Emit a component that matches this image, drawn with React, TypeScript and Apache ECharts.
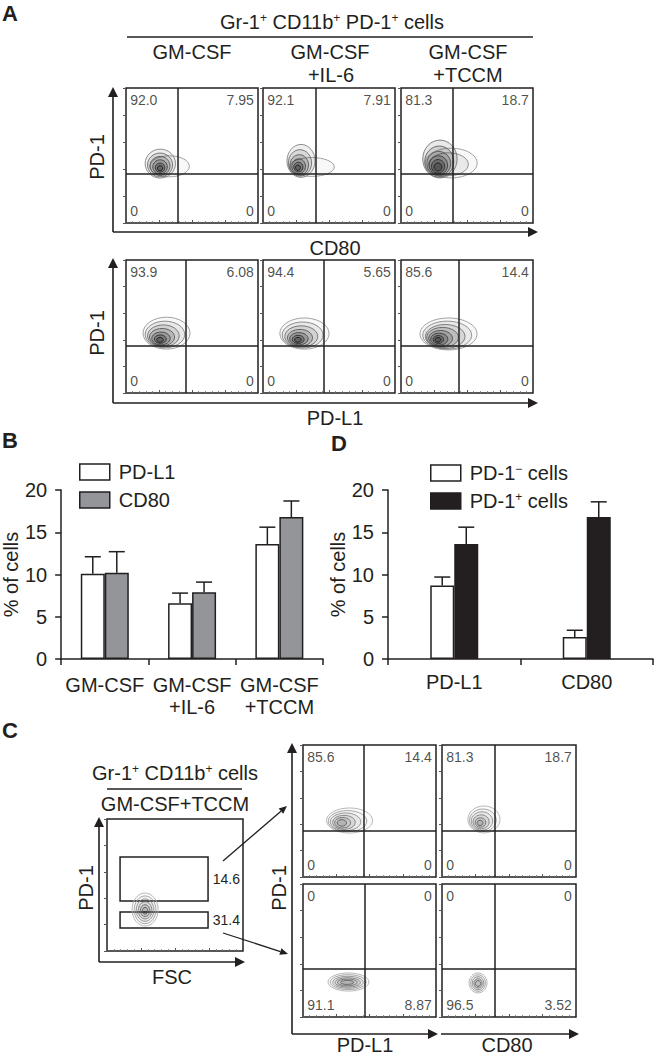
import React, { useEffect, useRef } from 'react';
import * as echarts from 'echarts';

const FONT = "'Liberation Sans', Arial, Helvetica, sans-serif";
const INK = '#231f20';

// ---------- Panel B data ----------
const bCategories = ['GM-CSF', 'GM-CSF\n+IL-6', 'GM-CSF\n+TCCM'];
const bPDL1 = [10.1, 6.6, 13.6];
const bPDL1Err = [2.0, 1.2, 2.0];
const bCD80 = [10.2, 7.9, 16.8];
const bCD80Err = [2.5, 1.2, 1.9];

// ---------- Panel D data ----------
const dCategories = ['PD-L1', 'CD80'];
const dNeg = [8.7, 2.6];
const dNegErr = [1.0, 0.8];
const dPos = [13.6, 16.8];
const dPosErr = [2.0, 1.8];

// ---------- Flow quadrant percentages [TL, TR, BL, BR] ----------
const quadA1 = [['92.0', '7.95', '0', '0'], ['92.1', '7.91', '0', '0'], ['81.3', '18.7', '0', '0']];
const quadA2 = [['93.9', '6.08', '0', '0'], ['94.4', '5.65', '0', '0'], ['85.6', '14.4', '0', '0']];
const quadC = [['85.6', '14.4', '0', '0'], ['81.3', '18.7', '0', '0'], ['0', '0', '91.1', '8.87'], ['0', '0', '96.5', '3.52']];
// quadrant gate positions [x, y] (0-100 scale)
const gatesA1 = [[39.4, 36.3], [40, 36.3], [39.4, 36.3]];
const gatesA2 = [[45.5, 35.3], [46, 35.3], [44, 35.3]];
const gatesC = [[46, 35], [39, 35], [46.6, 36], [39, 36]];
// FSC/PD-1 rectangular gates [x1, y1, x2, y2, %]
const fscGates = [[9.6, 37.9, 74.3, 71.2, '14.6'], [9.6, 17.4, 74.3, 29.5, '31.4']];

// ---------- Contour rings [cx, cy, rx, ry] (0-100 scale), outer -> inner ----------
const contourA1a = [[33, 42, 15, 7.8], [26, 44, 11.5, 10.7], [25.8, 43, 9.5, 8.8], [25.8, 42.3, 7.5, 7], [25.8, 41.6, 5.5, 5.2], [25.8, 41, 3.6, 3.4], [25.8, 40.6, 2, 1.9]];
const contourA1b = [[37, 41.5, 17, 7], [28.8, 46, 10.6, 12.2], [28, 44.5, 8.8, 9.8], [27.5, 43, 7, 7.6], [27, 42, 5.2, 5.5], [26.8, 41.4, 3.5, 3.6], [26.5, 41, 1.9, 2]];
const contourA1c = [[38, 44.4, 19.7, 11], [36, 43.5, 15, 8.5], [29.5, 47.4, 13, 14], [29, 45.5, 11, 11.5], [28.6, 44, 9, 9], [28.3, 42.8, 7, 7], [28.1, 42, 5, 5], [28, 41.5, 3, 3]];
const contourA2a = [[30.7, 45, 17.8, 12], [29.5, 44, 15, 10], [28.3, 43, 12, 8.2], [27.3, 42, 9.5, 6.5], [26.5, 41, 7, 4.8], [26, 40.5, 4.5, 3.2], [25.8, 40, 2.5, 1.8]];
const contourA2b = [[31.4, 44.7, 18.6, 11.7], [30, 43.6, 15.5, 9.8], [29, 42.5, 12.5, 8], [28, 41.5, 9.5, 6.3], [27.2, 40.8, 7, 4.6], [26.7, 40.3, 4.5, 3.1], [26.5, 40, 2.5, 1.8]];
const contourA2c = [[36, 44.4, 21.6, 12], [35, 43.5, 18.5, 10.5], [33.5, 42.5, 15, 9], [31.5, 41.8, 12, 7.5], [30, 41, 9, 6], [29, 40.5, 6.5, 4.5], [28.3, 40.2, 4, 3], [28, 40, 2.2, 1.7]];
const contourC1 = [[35, 42.8, 17.3, 9.5], [33.5, 42.3, 14.5, 8], [32, 41.8, 11.5, 6.7], [30.8, 41.4, 8.5, 5.3], [29.8, 41.1, 6, 4], [29.2, 41, 3.5, 2.5]];
const contourC2 = [[31.3, 43.6, 12, 10.2], [30.5, 43, 10, 8.5], [29.8, 42.4, 8, 7], [29.2, 41.8, 6, 5.3], [28.7, 41.3, 4, 3.6], [28.4, 41, 2.2, 2]];
const contourC3 = [[34.2, 26.3, 15.4, 6.8], [34, 26.2, 13.5, 5.6], [33.8, 26.1, 11.5, 4.5], [33.6, 26, 9.5, 3.5], [33.4, 26, 7.5, 2.5], [33.2, 26, 5, 1.5]];
const contourC4 = [[26.9, 25.6, 6.7, 7.5], [26.9, 25.5, 5.5, 6.2], [26.9, 25.4, 4.3, 4.9], [26.9, 25.3, 3.1, 3.5], [26.9, 25.2, 2, 2.2]];
const contourFSC = [[28, 31.4, 9.6, 12.5], [28, 31.2, 8, 10.5], [28, 31, 6.5, 8.5], [28, 30.8, 5, 6.5], [28, 30.6, 3.5, 4.5], [28, 30.5, 2, 2.6]];

// ---------- layout (pixels) ----------
const flowBoxes = [
  [126, 88, 132, 135], [263, 88, 132, 135], [401, 88, 132, 135],
  [126, 260, 132, 133], [263, 260, 132, 133], [401, 260, 132, 133],
  [303, 745, 133, 132], [442, 745, 134, 132], [303, 884, 133, 133], [442, 884, 134, 133],
  [107, 819, 136, 132],
];

function arrow(x1: number, y1: number, x2: number, y2: number, head = 10, half = 5, w = 1.6) {
  const dx = x2 - x1, dy = y2 - y1;
  const len = Math.sqrt(dx * dx + dy * dy);
  const ux = dx / len, uy = dy / len;
  const bx = x2 - ux * head, by = y2 - uy * head;
  return [
    { type: 'line', shape: { x1, y1, x2: bx, y2: by }, style: { stroke: INK, lineWidth: w } },
    { type: 'polygon', shape: { points: [[x2, y2], [bx - uy * half, by + ux * half], [bx + uy * half, by - ux * half]] }, style: { fill: INK } },
  ];
}

function txt(text: string, x: number, y: number, size = 20, opts: any = {}) {
  return {
    type: 'text', x, y, rotation: opts.rotation || 0,
    style: {
      text, fill: INK, fontSize: size, fontFamily: FONT, fontWeight: opts.bold ? 'bold' : 'normal',
      align: opts.align || 'center', verticalAlign: opts.va || 'middle',
      rich: { s: { fontSize: 12, fontFamily: FONT, fill: INK, verticalAlign: 'top', lineHeight: 12 } },
    },
  };
}

export default function App() {
  const ref = useRef<HTMLDivElement>(null);
  useEffect(() => {
    document.body.style.margin = '0';
    if (!ref.current) return;
    const chart = echarts.init(ref.current, undefined, { renderer: 'svg' });

    const grids: any[] = [];
    const xAxes: any[] = [];
    const yAxes: any[] = [];
    const series: any[] = [];

    const contours = [contourA1a, contourA1b, contourA1c, contourA2a, contourA2b, contourA2c, contourC1, contourC2, contourC3, contourC4, contourFSC];
    const quads = [...quadA1, ...quadA2, ...quadC];
    const gates = [...gatesA1, ...gatesA2, ...gatesC];

    flowBoxes.forEach(([l, t, w, h], i) => {
      grids.push({ left: l, top: t, width: w, height: h, show: true, borderColor: INK, borderWidth: 1.5, backgroundColor: 'transparent' });
      xAxes.push({
        type: 'value', gridIndex: i, min: 0, max: 100, interval: 25,
        axisLine: { show: false }, axisLabel: { show: false }, splitLine: { show: false },
        axisTick: { show: true, inside: true, length: 3, lineStyle: { color: '#555', width: 1 } },
        minorTick: { show: true, splitNumber: 5, length: 2, lineStyle: { color: '#777', width: 0.8 } },
      });
      yAxes.push({
        type: 'value', gridIndex: i, min: 0, max: 100, interval: 20,
        axisLine: { show: false }, axisLabel: { show: false }, splitLine: { show: false },
        axisTick: { show: true, inside: false, length: 3, lineStyle: { color: '#555', width: 1 } },
      });
      const isA = i < 6;
      const rings = contours[i];
      const n = rings.length;
      const outerG = isA ? 150 : 175;
      const innerG = isA ? 25 : 90;
      series.push({
        type: 'custom', xAxisIndex: i, yAxisIndex: i, silent: true, z: 3,
        data: rings,
        renderItem: (params: any, api: any) => {
          const c = api.coord([api.value(0), api.value(1)]);
          const s = api.size([api.value(2), api.value(3)]);
          const tt = n > 1 ? params.dataIndex / (n - 1) : 1;
          const g = Math.round(outerG + (innerG - outerG) * tt);
          const fa = isA ? 0.03 + 0.22 * tt : 0.015 + 0.09 * tt;
          return {
            type: 'ellipse',
            shape: { cx: c[0], cy: c[1], rx: s[0], ry: s[1] },
            style: { fill: `rgba(20,20,20,${fa.toFixed(3)})`, stroke: `rgb(${g},${g},${g})`, lineWidth: 0.9 },
          };
        },
      });
      if (i < 10) {
        const q = quads[i];
        const lbl = { show: true, fontSize: 14, fontFamily: FONT, color: INK, distance: 3 };
        series.push({
          type: 'scatter', xAxisIndex: i, yAxisIndex: i, silent: true, symbolSize: 1, z: 4,
          itemStyle: { color: 'rgba(0,0,0,0)' },
          data: [
            { value: [0.5, 91], label: { ...lbl, position: 'right', formatter: q[0] } },
            { value: [99.5, 91], label: { ...lbl, position: 'left', formatter: q[1] } },
            { value: [0.5, 9], label: { ...lbl, position: 'right', formatter: q[2] } },
            { value: [99.5, 9], label: { ...lbl, position: 'left', formatter: q[3] } },
          ],
          markLine: {
            silent: true, symbol: ['none', 'none'], label: { show: false },
            lineStyle: { color: INK, width: 1.5, type: 'solid' },
            data: [{ xAxis: gates[i][0] }, { yAxis: gates[i][1] }],
          },
        });
      } else {
        series.push({
          type: 'scatter', xAxisIndex: i, yAxisIndex: i, silent: true, symbolSize: 1, z: 4,
          itemStyle: { color: 'rgba(0,0,0,0)' },
          data: [[50, 50]],
          markArea: {
            silent: true,
            itemStyle: { color: 'rgba(0,0,0,0)', borderColor: INK, borderWidth: 1.5 },
            label: { show: true, position: 'right', distance: 4, fontSize: 14, fontFamily: FONT, color: INK },
            data: fscGates.map((gt) => [
              { xAxis: gt[0], yAxis: gt[1], name: gt[4] as string },
              { xAxis: gt[2], yAxis: gt[3] },
            ]),
          },
        });
      }
    });

    // bar grids
    const barAxisCommon = {
      axisLine: { show: true, lineStyle: { color: INK, width: 1.5 } },
      axisTick: { show: true, length: 6, lineStyle: { color: INK, width: 1.5 } },
      splitLine: { show: false },
    };
    const gB = grids.length;
    grids.push({ left: 58, top: 490, width: 265, height: 169 });
    const gD = grids.length;
    grids.push({ left: 388, top: 490, width: 265, height: 169 });

    [[gB, bCategories, 15], [gD, dCategories, 12]].forEach(([gi, cats, mg]: any) => {
      xAxes.push({
        type: 'category', gridIndex: gi, data: cats, ...barAxisCommon,
        axisLabel: { fontSize: 20, fontFamily: FONT, color: INK, margin: mg, lineHeight: 22, interval: 0 },
      });
      yAxes.push({
        type: 'value', gridIndex: gi, min: 0, max: 20, interval: 5, ...barAxisCommon,
        axisLabel: { fontSize: 20, fontFamily: FONT, color: INK, margin: 14 },
        name: '% of cells', nameLocation: 'middle', nameGap: 40,
        nameTextStyle: { fontSize: 20, fontFamily: FONT, color: INK },
      });
    });

    const barSeries = (name: string, vals: number[], gi: number, color: string) => ({
      type: 'bar', name, xAxisIndex: gi, yAxisIndex: gi, data: vals, barWidth: 24, barGap: '0%',
      itemStyle: { color, borderColor: INK, borderWidth: 1.5 }, silent: true, z: 2,
    });
    const errSeries = (vals: number[], errs: number[], gi: number, off: number) => ({
      type: 'custom', xAxisIndex: gi, yAxisIndex: gi, silent: true, z: 5,
      data: vals.map((v, i) => [i, v, v + errs[i]]),
      renderItem: (params: any, api: any) => {
        const base = api.coord([api.value(0), api.value(1)]);
        const top = api.coord([api.value(0), api.value(2)]);
        const x = base[0] + off;
        return {
          type: 'group', children: [
            { type: 'line', shape: { x1: x, y1: base[1], x2: x, y2: top[1] }, style: { stroke: INK, lineWidth: 1.5 } },
            { type: 'line', shape: { x1: x - 8, y1: top[1], x2: x + 8, y2: top[1] }, style: { stroke: INK, lineWidth: 1.5 } },
          ],
        };
      },
    });
    series.push(barSeries('PD-L1', bPDL1, gB, '#ffffff'));
    series.push(barSeries('CD80', bCD80, gB, '#939598'));
    series.push(errSeries(bPDL1, bPDL1Err, gB, -12));
    series.push(errSeries(bCD80, bCD80Err, gB, 12));
    series.push(barSeries('PD-1- cells', dNeg, gD, '#ffffff'));
    series.push(barSeries('PD-1+ cells', dPos, gD, '#231f20'));
    series.push(errSeries(dNeg, dNegErr, gD, -12));
    series.push(errSeries(dPos, dPosErr, gD, 12));

    const legendCommon = {
      orient: 'vertical', itemWidth: 30, itemHeight: 16, itemGap: 8, icon: 'rect', padding: 0,
      itemStyle: { borderColor: INK, borderWidth: 1.5 },
      textStyle: {
        fontSize: 20, fontFamily: FONT, color: INK, padding: [0, 0, 0, 4], lineHeight: 20,
        rich: { s: { fontSize: 12, fontFamily: FONT, color: INK, verticalAlign: 'top', lineHeight: 10 } },
      },
      selectedMode: false,
    };

    const graphics: any[] = [
      txt('A', 2, 2, 22, { bold: true, align: 'left', va: 'top' }),
      txt('B', 2, 429, 22, { bold: true, align: 'left', va: 'top' }),
      txt('D', 331, 432, 22, { bold: true, align: 'left', va: 'top' }),
      txt('C', 2, 719, 22, { bold: true, align: 'left', va: 'top' }),
      txt('Gr-1{s|+} CD11b{s|+} PD-1{s|+} cells', 332, 22, 20),
      { type: 'line', shape: { x1: 127, y1: 37, x2: 533, y2: 37 }, style: { stroke: INK, lineWidth: 1.6 } },
      txt('GM-CSF', 192, 52, 20), txt('GM-CSF', 330, 52, 20), txt('GM-CSF', 468, 52, 20),
      txt('+IL-6', 331, 75, 20), txt('+TCCM', 468, 75, 20),
      ...arrow(113, 232, 113, 87), ...arrow(113, 232, 538, 232),
      ...arrow(113, 403, 113, 258), ...arrow(113, 403, 538, 403),
      txt('PD-1', 97, 157, 20, { rotation: Math.PI / 2 }), txt('CD80', 335, 248, 20),
      txt('PD-1', 97, 333, 20, { rotation: Math.PI / 2 }), txt('PD-L1', 335, 418, 20),
      txt('Gr-1{s|+} CD11b{s|+} cells', 175, 773, 20),
      { type: 'line', shape: { x1: 107, y1: 789, x2: 242, y2: 789 }, style: { stroke: INK, lineWidth: 1.5 } },
      txt('GM-CSF+TCCM', 175, 804, 20),
      ...arrow(99, 962, 99, 817), ...arrow(99, 962, 245, 962),
      txt('PD-1', 86, 888, 20, { rotation: Math.PI / 2 }), txt('FSC', 172, 977, 20),
      ...arrow(292, 1034, 292, 743), ...arrow(292, 1034, 438, 1034), ...arrow(441, 1034, 579, 1034),
      txt('PD-1', 279, 888, 20, { rotation: Math.PI / 2 }),
      txt('PD-L1', 365, 1045, 20), txt('CD80', 507, 1045, 20),
      ...arrow(223, 861, 287, 806, 8, 3.5, 1.3), ...arrow(223, 933, 288, 954, 8, 3.5, 1.3),
    ];

    chart.setOption({
      animation: false,
      backgroundColor: '#ffffff',
      textStyle: { fontFamily: FONT },
      grid: grids,
      xAxis: xAxes,
      yAxis: yAxes,
      legend: [
        { ...legendCommon, data: ['PD-L1', 'CD80'], left: 79, top: 462 },
        {
          ...legendCommon, data: ['PD-1- cells', 'PD-1+ cells'], left: 430, top: 463,
          formatter: (name: string) => (name === 'PD-1- cells' ? 'PD-1{s|\u2212} cells' : 'PD-1{s|+} cells'),
        },
      ],
      series,
      graphic: graphics,
    });
    return () => chart.dispose();
  }, []);
  return <div ref={ref} style={{ position: 'absolute', left: 0, top: 0, width: 657, height: 1057 }} />;
}
